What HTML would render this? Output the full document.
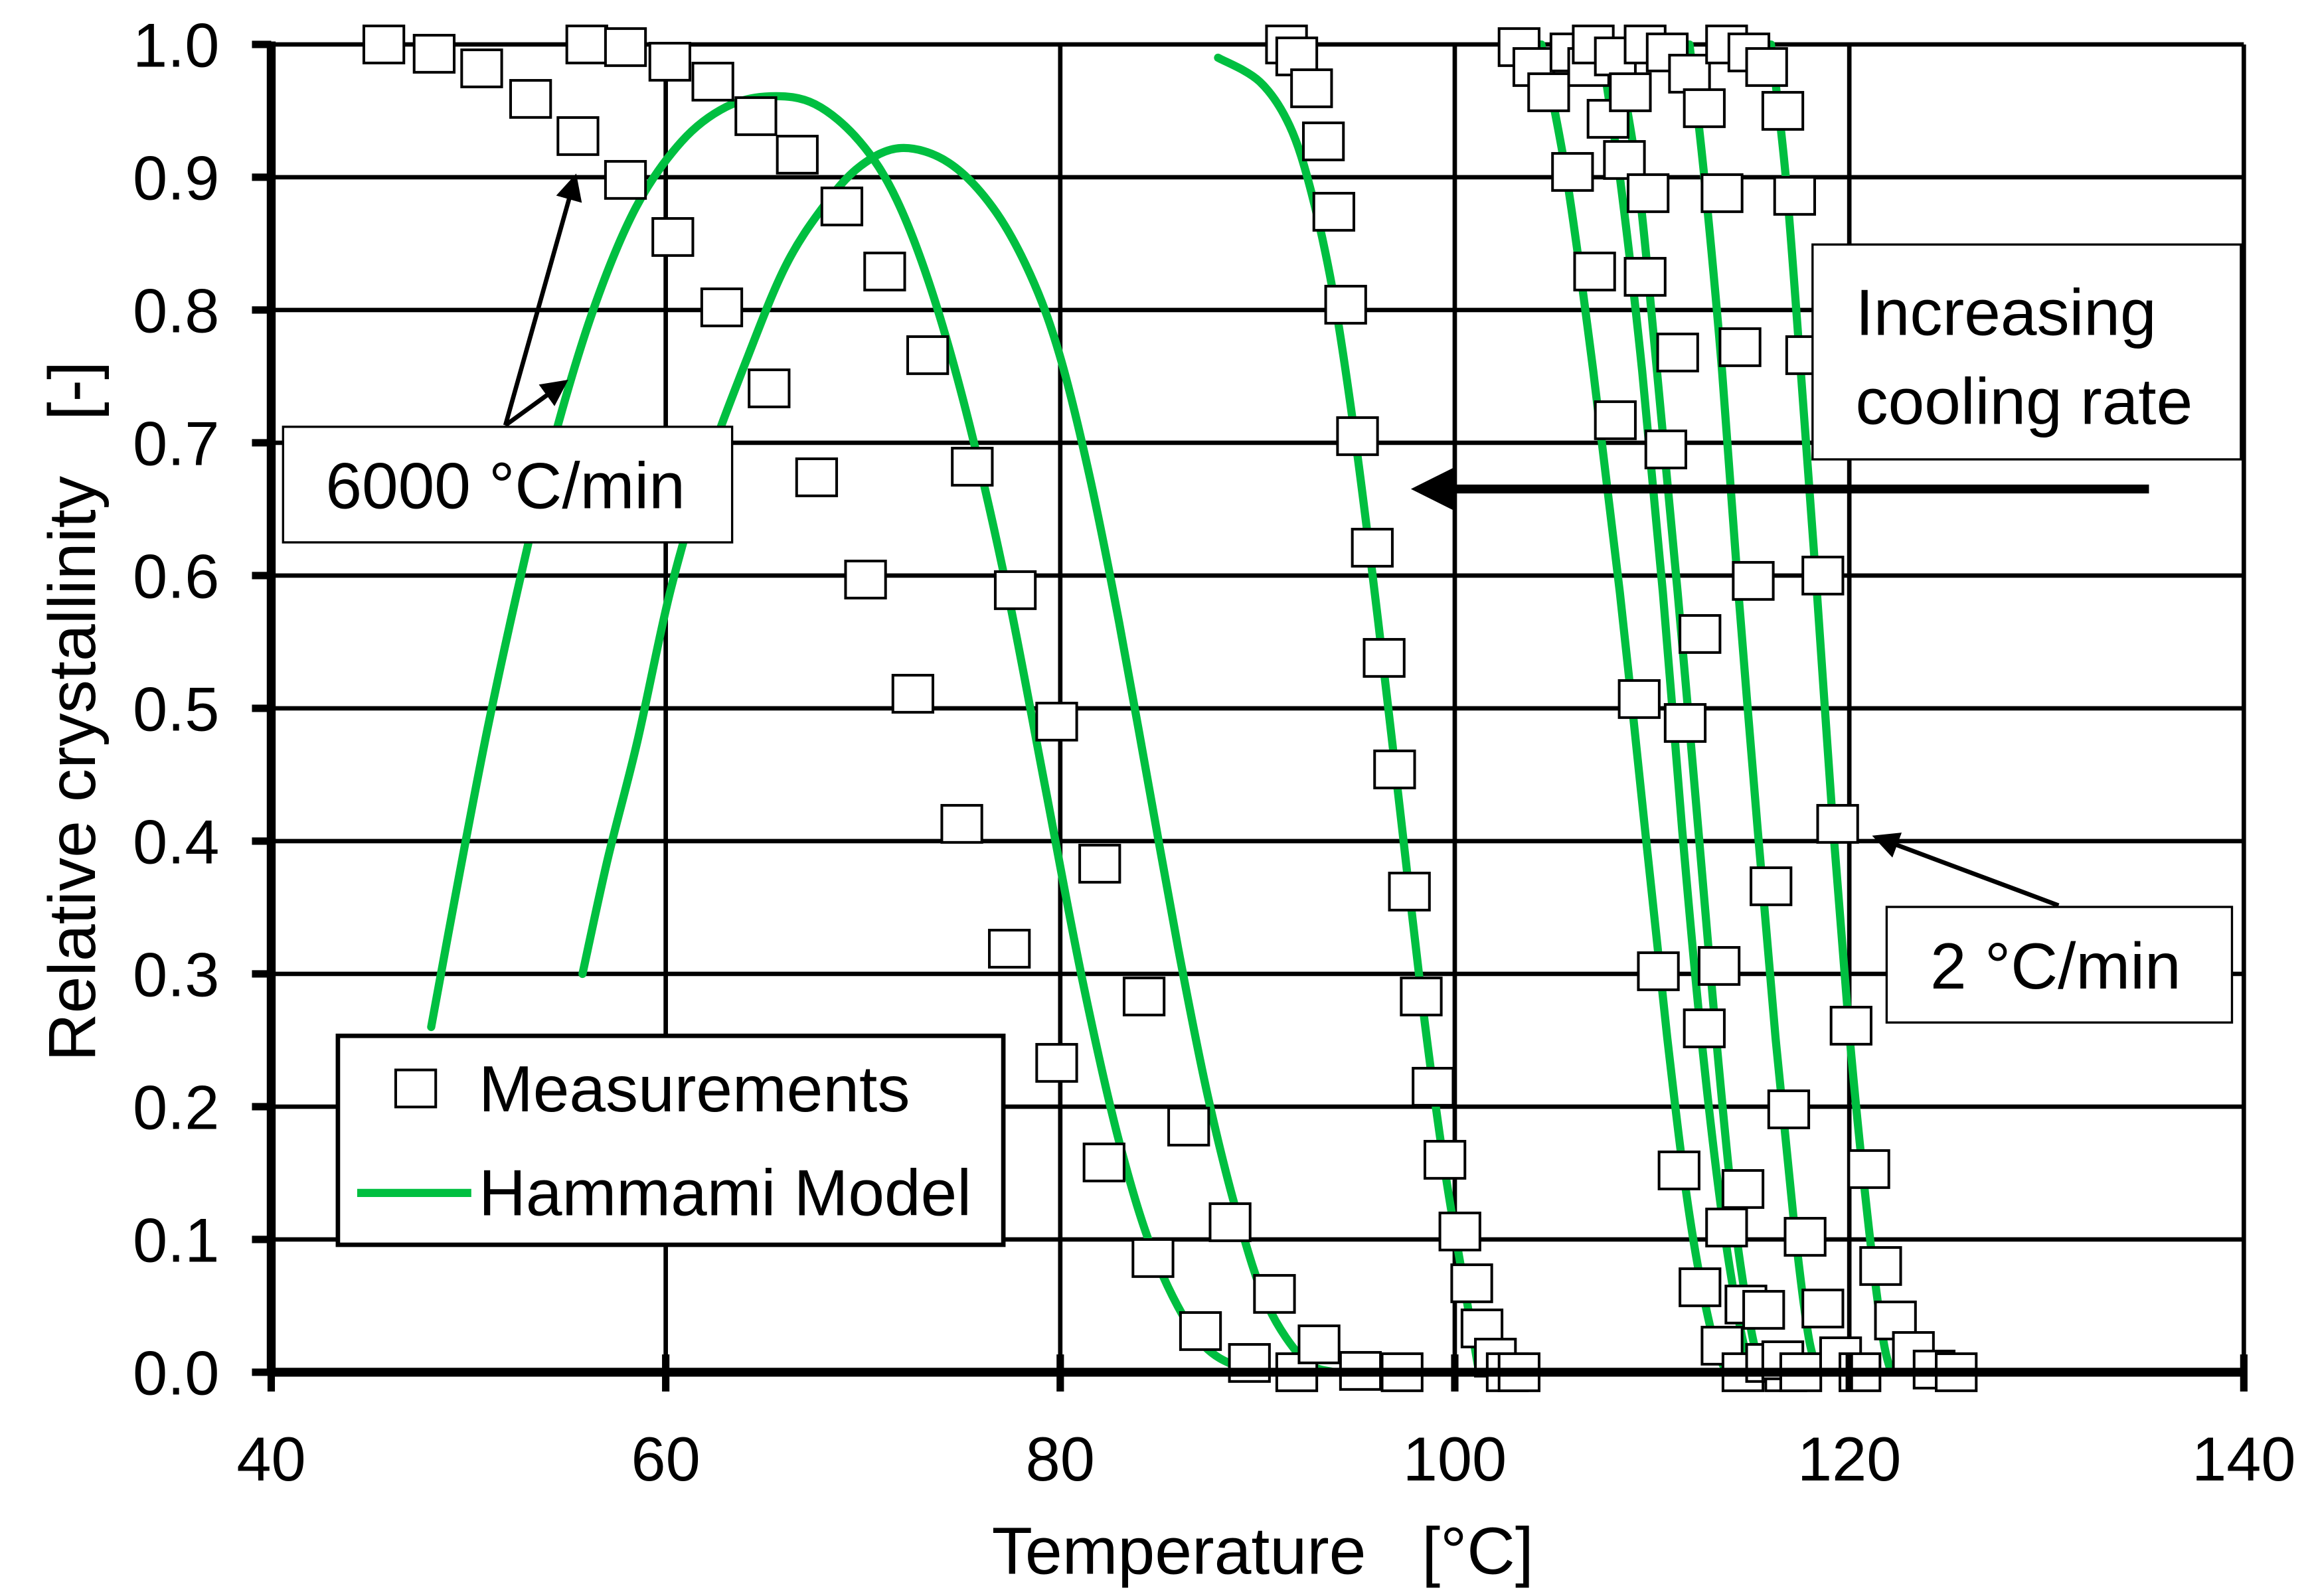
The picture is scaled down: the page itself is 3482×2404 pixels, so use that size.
<!DOCTYPE html>
<html><head><meta charset="utf-8"><style>
html,body{margin:0;padding:0;background:#fff;}
svg{display:block;}
text{font-family:"Liberation Sans",Arial,sans-serif;fill:#000;}
</style></head><body>
<svg id="chart" width="3482" height="2404" viewBox="0 0 1560 1077" preserveAspectRatio="none" xmlns="http://www.w3.org/2000/svg">
<rect x="0" y="0" width="1560" height="1077" fill="#fff"/>
<g id="grid"></g><g id="curves"></g><g id="marks"></g><g id="axes"></g>
</svg>
<script>
const xTicks=[40,60,80,100,120,140];
const yTicks=[0,0.1,0.2,0.3,0.4,0.5,0.6,0.7,0.8,0.9,1.0];
const yTickLabels=["0.0","0.1","0.2","0.3","0.4","0.5","0.6","0.7","0.8","0.9","1.0"];

// measurement sets
const m1T=[45.71,48.26,50.67,53.15,55.55,57.96,60.36,62.84,65.24,67.65,70.13,72.53,75.01,77.42,79.82,82.22,84.70,87.11,89.59,91.99];
const m1Y=[1.0,0.993,0.982,0.959,0.931,0.898,0.855,0.802,0.741,0.674,0.597,0.511,0.413,0.319,0.233,0.158,0.086,0.031,0.007,0];
const m2T=[56.00,57.96,60.21,62.39,64.57,66.67,68.93,71.10,73.28,75.54,77.72,79.82,82.00,84.25,86.51,88.61,90.86,93.12,95.22,97.33];
const m2Y=[1.0,0.998,0.987,0.972,0.946,0.917,0.878,0.829,0.766,0.682,0.589,0.490,0.383,0.283,0.185,0.113,0.059,0.021,0.001,0];
const m3T=[91.47,91.99,92.74,93.34,93.87,94.47,95.07,95.82,96.42,96.95,97.70,98.30,98.90,99.50,100.26,100.86,101.38,102.06,102.66,103.26];
const m3Y=[1.0,0.991,0.967,0.927,0.874,0.804,0.705,0.621,0.538,0.454,0.362,0.283,0.215,0.160,0.106,0.067,0.033,0.011,0,0];
const m4T=[103.26,104.01,104.76,105.97,107.09,108.14,109.35,110.32,111.37,112.43,113.55,114.61];
const m4Y=[0.998,0.983,0.964,0.904,0.829,0.717,0.507,0.302,0.152,0.064,0.020,0];
const m5T=[105.89,106.79,107.77,108.60,109.65,110.70,111.68,112.65,113.78,114.76,115.81,116.78];
const m5Y=[0.994,0.983,0.944,0.913,0.825,0.695,0.489,0.259,0.109,0.051,0.007,0];
const m6T=[107.02,108.14,108.90,109.80,111.30,112.43,113.40,114.61,115.66,116.63,117.54];
const m6Y=[1.0,0.991,0.964,0.888,0.768,0.556,0.306,0.138,0.047,0.009,0];
const m7T=[109.65,110.77,111.90,112.65,113.55,114.46,115.13,116.03,116.93,117.76,118.66,119.56,120.54];
const m7Y=[1.0,0.994,0.978,0.952,0.888,0.772,0.596,0.366,0.198,0.102,0.048,0.012,0];
const m8T=[113.78,114.91,115.81,116.63,117.23,117.84,118.66,119.41,120.09,120.99,121.59,122.34,123.25,124.30,125.42];
const m8Y=[1.0,0.994,0.983,0.950,0.886,0.766,0.600,0.413,0.261,0.153,0.080,0.039,0.016,0.002,0];

// model curves
const c1T=[48.11,49.54,50.97,52.55,54.27,56.30,58.48,60.81,63.07,65.32,67.57,69.83,71.71,73.58,75.46,77.34,79.22,81.10,82.98,84.85,87.11,89.36,90.49];
const c1Y=[0.260,0.375,0.485,0.593,0.699,0.799,0.877,0.927,0.953,0.961,0.955,0.927,0.883,0.810,0.710,0.587,0.442,0.297,0.174,0.085,0.023,0.002,0];
const c2T=[55.78,57.05,58.56,60.21,61.94,64.19,66.07,67.95,69.83,71.93,74.34,76.59,78.47,79.97,81.47,82.98,84.48,85.98,87.48,88.99,90.49,92.37,93.87];
const c2Y=[0.300,0.386,0.475,0.587,0.676,0.766,0.833,0.877,0.908,0.922,0.911,0.877,0.827,0.766,0.676,0.565,0.442,0.319,0.208,0.118,0.051,0.009,0];
const c3T=[88.0,90.11,91.62,92.74,93.87,94.99,96.12,97.25,98.38,99.50,100.63,101.23];
const c3Y=[0.99,0.972,0.939,0.888,0.810,0.699,0.565,0.420,0.275,0.152,0.052,0];
const rY=[1.0,0.9,0.754,0.587,0.408,0.252,0.118,0.029,0];
const c4T=[104.39,105.67,107.02,108.37,109.65,110.77,111.90,113.03,113.78];
const c5T=[107.39,108.37,109.50,110.55,111.53,112.50,113.55,114.53,115.13];
const c6T=[108.14,109.27,110.25,111.30,112.35,113.25,114.15,115.06,115.66];
const c7T=[111.90,112.65,113.55,114.38,115.36,116.26,117.16,117.91,118.44];
const c8T=[116.03,116.78,117.54,118.36,119.19,120.02,120.92,121.67,122.12];

const X0=183,X1=1514,Y0=926,Y1=30;
function sx(t){return X0+(t-40)/100*(X1-X0);}
function sy(v){return Y0-v*(Y0-Y1);}
const NS="http://www.w3.org/2000/svg";
function mk(tag,attrs,parent){const e=document.createElementNS(NS,tag);for(const k in attrs)e.setAttribute(k,attrs[k]);parent.appendChild(e);return e;}
const grid=document.getElementById('grid'),curves=document.getElementById('curves'),marks=document.getElementById('marks'),axes=document.getElementById('axes');

yTicks.forEach((v,i)=>{
  const l=mk('line',{x1:X0,x2:X1,y1:sy(v),y2:sy(v),stroke:'#000','stroke-width':3},grid);
  
  
  const tk=mk('line',{x1:X0-13,x2:X0,y1:sy(v),y2:sy(v),stroke:'#000','stroke-width':5},axes);
  
  
  const t=mk('text',{x:148,y:sy(v)+15,'text-anchor':'end','font-size':42},axes);
  t.textContent=yTickLabels[i];
  
  
});
xTicks.forEach(v=>{
  const l=mk('line',{x1:sx(v),x2:sx(v),y1:Y1,y2:Y0,stroke:'#000','stroke-width':3},grid);
  
  
  const tk=mk('line',{x1:sx(v),x2:sx(v),y1:Y0-12,y2:Y0+13,stroke:'#000','stroke-width':5},axes);
  
  
  const t=mk('text',{x:sx(v),y:999,'text-anchor':'middle','font-size':42},axes);
  t.textContent=String(v);
  
  
});
const ax1=mk('line',{x1:X0,x2:X1+2,y1:Y0,y2:Y0,stroke:'#000','stroke-width':6},axes);


const ax2=mk('line',{x1:X0,x2:X0,y1:Y1-2,y2:Y0+2,stroke:'#000','stroke-width':6},axes);



function smooth(T,Y){
  const p=T.map((t,i)=>[sx(t),sy(Y[i])]);
  let d='M'+p[0][0]+','+p[0][1];
  for(let i=0;i<p.length-1;i++){
    const a=p[Math.max(0,i-1)],b=p[i],c=p[i+1],e=p[Math.min(p.length-1,i+2)];
    const c1x=b[0]+(c[0]-a[0])/6,c1y=b[1]+(c[1]-a[1])/6,c2x=c[0]-(e[0]-b[0])/6,c2y=c[1]-(e[1]-b[1])/6;
    d+=' C'+c1x+','+c1y+' '+c2x+','+c2y+' '+c[0]+','+c[1];
  }
  return d;
}
const curveList=[[c1T,c1Y],[c2T,c2Y],[c3T,c3Y],[c4T,rY],[c5T,rY],[c6T,rY],[c7T,rY],[c8T,rY]];
curveList.forEach((c,i)=>{
  const p=mk('path',{d:smooth(c[0],c[1]),fill:'none',stroke:'#00BF40','stroke-width':5.5,'stroke-linecap':'round'},curves);
  
  
});
const mList=[[m1T,m1Y],[m2T,m2Y],[m3T,m3Y],[m4T,m4Y],[m5T,m5Y],[m6T,m6Y],[m7T,m7Y],[m8T,m8Y]];
mList.forEach((m,i)=>{
  m[0].forEach((t,j)=>{
    const r=mk('rect',{x:sx(t)-13.5,y:sy(m[1][j])-12.5,width:27,height:25,fill:'#fff',stroke:'#000','stroke-width':1.8},marks);
    
    
  });
});
</script>
<svg style="position:absolute;left:0;top:0" width="3482" height="2404" viewBox="0 0 1560 1077" preserveAspectRatio="none" xmlns="http://www.w3.org/2000/svg">
<defs><marker id="ah" markerWidth="6" markerHeight="6" refX="5" refY="3" orient="auto" markerUnits="strokeWidth"><path d="M0,0 L6,3 L0,6 z" fill="#000"/></marker>
<marker id="ah2" markerWidth="5" markerHeight="5" refX="4" refY="2.5" orient="auto" markerUnits="strokeWidth"><path d="M0,0 L5,2.5 L0,5 z" fill="#000"/></marker></defs>
<line x1="341" y1="287" x2="388" y2="120" stroke="#000" stroke-width="3" marker-end="url(#ah)"/>
<line x1="341" y1="287" x2="381" y2="258" stroke="#000" stroke-width="3" marker-end="url(#ah)"/>
<g><rect x="191" y="288" width="303" height="78" fill="#fff" stroke="#000" stroke-width="1.5"/>
<text x="341" y="343" text-anchor="middle" font-size="44">6000 °C/min</text></g>
<g><rect x="1223" y="165" width="289" height="145" fill="#fff" stroke="#000" stroke-width="1.5"/>
<text x="1252" y="226" font-size="44">Increasing</text><text x="1252" y="286" font-size="44">cooling rate</text></g>
<line x1="1450" y1="330" x2="958" y2="330" stroke="#000" stroke-width="6" marker-end="url(#ah2)"/>
<line x1="1389" y1="611" x2="1266" y2="565" stroke="#000" stroke-width="3" marker-end="url(#ah)"/>
<g><rect x="1273" y="612" width="233" height="78" fill="#fff" stroke="#000" stroke-width="1.5"/>
<text x="1387" y="667" text-anchor="middle" font-size="44">2 °C/min</text></g>
<g><rect x="228" y="699" width="449" height="141" fill="#fff" stroke="#000" stroke-width="3"/>
<rect x="267" y="722" width="27" height="25" fill="#fff" stroke="#000" stroke-width="1.8"/>
<text x="323" y="750" font-size="44">Measurements</text>
<line x1="241" y1="805" x2="318" y2="805" stroke="#00BF40" stroke-width="5.5"/>
<text x="323" y="820" font-size="44">Hammami Model</text></g>
<text x="852" y="1062" text-anchor="middle" font-size="45" xml:space="preserve">Temperature   [°C]</text>
<text transform="translate(64,480) rotate(-90)" text-anchor="middle" font-size="45" xml:space="preserve">Relative crystallinity   [-]</text>
</svg>
</body></html>
